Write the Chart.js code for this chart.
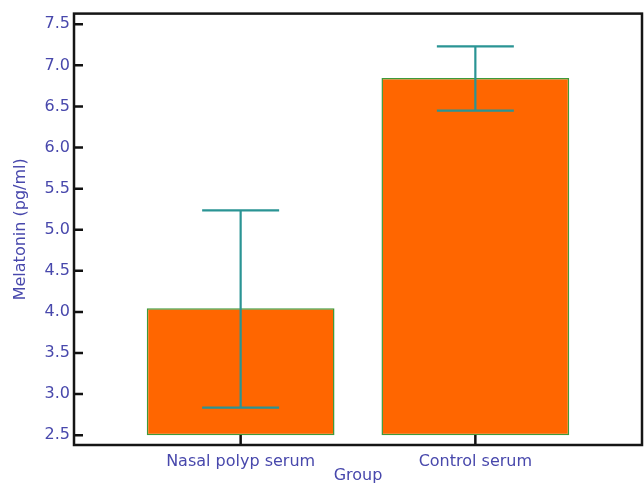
<!DOCTYPE html>
<html>
<head>
<meta charset="utf-8">
<script src="https://cdn.jsdelivr.net/npm/chart.js@4"></script>
<style>
  html, body { margin: 0; padding: 0; background: #fff; }
  #wrap { width: 644px; height: 485px; }
</style>
</head>
<body>
<div id="wrap"><canvas id="c" width="644" height="485"></canvas></div>
<script>
const categories = ['Nasal polyp serum', 'Control serum'];
const means = [4.045, 6.845];
const errUpper = [5.235, 7.23];
const errLower = [2.835, 6.45];
const yTicks = [2.5, 3.0, 3.5, 4.0, 4.5, 5.0, 5.5, 6.0, 6.5, 7.0, 7.5];
const yTitle = 'Melatonin (pg/ml)';
const xTitle = 'Group';

const textColor = '#4848ac';
const font = { family: 'DejaVu Sans', size: 16 };

const frame = {
  id: 'frame',
  afterDatasetsDraw(chart) {
    const { ctx, chartArea: a, scales } = chart;
    ctx.save();
    // error bars
    const meta = chart.getDatasetMeta(0);
    ctx.strokeStyle = '#2a9494';
    ctx.lineWidth = 2.2;
    meta.data.forEach((bar, i) => {
      const yt = scales.y.getPixelForValue(errUpper[i]);
      const yb = scales.y.getPixelForValue(errLower[i]);
      const hw = bar.width * 0.205;
      ctx.beginPath();
      ctx.moveTo(bar.x, yt); ctx.lineTo(bar.x, yb);
      ctx.moveTo(bar.x - hw, yt); ctx.lineTo(bar.x + hw, yt);
      ctx.moveTo(bar.x - hw, yb); ctx.lineTo(bar.x + hw, yb);
      ctx.stroke();
    });
    // inward ticks
    ctx.strokeStyle = '#111';
    ctx.lineWidth = 2.5;
    ctx.beginPath();
    yTicks.forEach(v => {
      const y = scales.y.getPixelForValue(v);
      ctx.moveTo(a.left, y); ctx.lineTo(a.left + 9, y);
    });
    categories.forEach((c, i) => {
      const x = scales.x.getPixelForValue(i);
      ctx.moveTo(x, a.bottom); ctx.lineTo(x, a.bottom - 10);
    });
    ctx.stroke();
    // box
    ctx.lineWidth = 2.5;
    ctx.strokeStyle = '#151515';
    ctx.strokeRect(a.left, a.top, a.right - a.left, a.bottom - a.top);
    ctx.restore();
  }
};

new Chart(document.getElementById('c'), {
  type: 'bar',
  data: {
    datasets: [{
      data: means.map((m, i) => ({ x: i, y: m })),
      base: 2.5,
      backgroundColor: '#ff6600',
      borderColor: '#3f9a3a',
      borderWidth: 1.5,
      borderSkipped: false,
      categoryPercentage: 1.0,
      barPercentage: 0.8
    }]
  },
  plugins: [frame],
  options: {
    responsive: false,
    animation: false,
    layout: { padding: { top: 11, right: 2, left: 0, bottom: 0 } },
    plugins: { legend: { display: false }, tooltip: { enabled: false } },
    scales: {
      x: {
        type: 'linear',
        offset: false,
        min: -0.71,
        max: 1.71,
        afterBuildTicks: s => { s.ticks = categories.map((c, i) => ({ value: i })); },
        afterFit: s => { s.height = 40; },
        grid: { display: false, drawTicks: false, offset: false },
        border: { display: false },
        ticks: {
          color: textColor, font, padding: 7, autoSkip: false, maxRotation: 0,
          callback: v => categories[v]
        },
        title: { display: true, text: xTitle, color: textColor, font, padding: { top: 0, bottom: 0 } }
      },
      y: {
        type: 'linear',
        min: 2.38,
        max: 7.63,
        afterBuildTicks: s => { s.ticks = yTicks.map(v => ({ value: v })); },
        afterFit: s => { s.width = 74; },
        grid: { display: false, drawTicks: false },
        border: { display: false },
        ticks: {
          color: textColor, font, padding: 4,
          callback: v => Number(v).toFixed(1)
        },
        title: { display: true, text: yTitle, color: textColor, font, padding: { top: 11, bottom: 0 } }
      }
    }
  }
});
</script>
</body>
</html>
